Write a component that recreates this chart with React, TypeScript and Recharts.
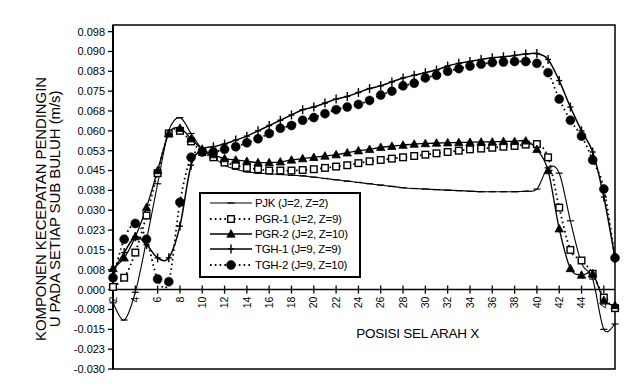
import React from "react";
import {
  LineChart,
  Line,
  XAxis,
  YAxis,
  ReferenceLine,
  ReferenceArea,
  ReferenceDot,
  Legend,
} from "recharts";

// ---------- data ----------
const cells = [
  2, 3, 4, 5, 6, 7, 8, 9, 10, 11, 12, 13, 14, 15, 16, 17, 18, 19, 20, 21, 22, 23, 24,
  25, 26, 27, 28, 29, 30, 31, 32, 33, 34, 35, 36, 37, 38, 39, 40, 41, 42, 43, 44, 45, 46, 47,
];

const pjk = [
  -0.005, -0.0115, -0.001, 0.0185, 0.04, 0.06, 0.065, 0.059, 0.053, 0.05, 0.047, 0.0455,
  0.0445, 0.044, 0.0438, 0.0435, 0.0432, 0.043, 0.0425, 0.042, 0.0415, 0.041, 0.0405, 0.04,
  0.0395, 0.039, 0.0385, 0.0382, 0.038, 0.0378, 0.0376, 0.0374, 0.0372, 0.037, 0.037, 0.037,
  0.037, 0.0372, 0.038, 0.046, 0.044, 0.026, 0.01, 0.004, -0.015, -0.013,
];

const pgr1 = [
  0.001, 0.0045, 0.014, 0.028, 0.044, 0.059, 0.06, 0.056, 0.052, 0.05, 0.048, 0.047, 0.046,
  0.0455, 0.045, 0.045, 0.045, 0.0452, 0.0455, 0.046, 0.0465, 0.047, 0.0478, 0.0485, 0.049,
  0.0495, 0.05, 0.0505, 0.051, 0.0515, 0.052, 0.0525, 0.053, 0.0533, 0.0536, 0.054, 0.0543,
  0.0548, 0.055, 0.05, 0.031, 0.015, 0.011, 0.006, -0.003, -0.007,
];

const pgr2 = [
  0.008, 0.012, 0.02, 0.031, 0.045, 0.059, 0.061, 0.057, 0.053, 0.051, 0.0495, 0.049,
  0.0485, 0.048, 0.048, 0.0483, 0.049, 0.0495, 0.05, 0.0505, 0.051, 0.0517, 0.0525, 0.053,
  0.0538, 0.0542, 0.0546, 0.055, 0.0552, 0.0554, 0.0555, 0.0556, 0.0557, 0.0558, 0.0558,
  0.056, 0.056, 0.0562, 0.053, 0.045, 0.023, 0.008, 0.0055, 0.006, -0.004, -0.006,
];

const tgh1 = [
  0.007, 0.014, 0.02, 0.017, 0.012, 0.012, 0.024, 0.047, 0.053, 0.054, 0.055, 0.0565, 0.058,
  0.06, 0.062, 0.064, 0.066, 0.068, 0.069, 0.0705, 0.072, 0.073, 0.0745, 0.076, 0.077,
  0.0785, 0.08, 0.081, 0.082, 0.083, 0.0845, 0.0855, 0.0862, 0.087, 0.0876, 0.088, 0.0885,
  0.089, 0.0892, 0.087, 0.079, 0.069, 0.06, 0.052, 0.035, 0.012,
];

const tgh2 = [
  0.0045, 0.019, 0.025, 0.019, 0.004, 0.003, 0.033, 0.05, 0.052, 0.052, 0.053, 0.054, 0.0555,
  0.057, 0.059, 0.061, 0.062, 0.064, 0.065, 0.0665, 0.068, 0.069, 0.07, 0.0715, 0.0735,
  0.075, 0.077, 0.078, 0.08, 0.081, 0.0825, 0.0835, 0.0845, 0.0852, 0.0858, 0.086, 0.0862,
  0.0862, 0.0855, 0.082, 0.072, 0.064, 0.058, 0.049, 0.038, 0.012,
];

const seriesNames = [
  "PJK (J=2, Z=2)",
  "PGR-1 (J=2, Z=9)",
  "PGR-2 (J=2, Z=10)",
  "TGH-1 (J=9, Z=9)",
  "TGH-2 (J=9, Z=10)",
];

const xTickValues = [2, 4, 6, 8, 10, 12, 14, 16, 18, 20, 22, 24, 26, 28, 30, 32, 34, 36, 38, 40, 42, 44, 46];

const yTickValues = [
  -0.03, -0.0225, -0.015, -0.0075, 0, 0.0075, 0.015, 0.0225, 0.03, 0.0375, 0.045, 0.0525,
  0.06, 0.0675, 0.075, 0.0825, 0.09, 0.0975,
];
const yTickLabels = [
  "-0.030", "-0.023", "-0.015", "-0.008", "0.000", "0.008", "0.015", "0.023", "0.030",
  "0.038", "0.045", "0.053", "0.060", "0.068", "0.075", "0.083", "0.090", "0.098",
];

const yTitleLines = ["KOMPONEN KECEPATAN PENDINGIN", "U PADA SETIAP SUB BULUH  (m/s)"];
const xTitle = "POSISI SEL ARAH X";

const data = cells.map((x, i) => ({
  x,
  pjk: pjk[i],
  pgr1: pgr1[i],
  pgr2: pgr2[i],
  tgh1: tgh1[i],
  tgh2: tgh2[i],
}));

// ---------- styling ----------
const FONT = '"Liberation Sans", Arial, Helvetica, sans-serif';
const INK = "#000";

// Excel-like smoothed line (Catmull-Rom through points)
const excelSmooth = (context: any) => {
  let pts: number[][] = [];
  return {
    areaStart() {},
    areaEnd() {},
    lineStart() {
      pts = [];
    },
    point(x: number, y: number) {
      pts.push([+x, +y]);
    },
    lineEnd() {
      const n = pts.length;
      if (!n) return;
      context.moveTo(pts[0][0], pts[0][1]);
      if (n === 1) return;
      for (let i = 0; i < n - 1; i++) {
        const p0 = pts[i - 1] || pts[i];
        const p1 = pts[i];
        const p2 = pts[i + 1];
        const p3 = pts[i + 2] || pts[i + 1];
        const c1x = p1[0] + (p2[0] - p0[0]) / 6;
        const c1y = p1[1] + (p2[1] - p0[1]) / 6;
        const c2x = p2[0] - (p3[0] - p1[0]) / 6;
        const c2y = p2[1] - (p3[1] - p1[1]) / 6;
        context.bezierCurveTo(c1x, c1y, c2x, c2y, p2[0], p2[1]);
      }
    },
  };
};

// ---------- markers ----------
const DashMark = ({ cx, cy }: any) => (
  <line x1={cx - 3.5} x2={cx + 3.5} y1={cy} y2={cy} stroke={INK} strokeWidth={1.2} strokeDasharray="none" />
);
const SquareMark = ({ cx, cy }: any) => (
  <rect x={cx - 3.3} y={cy - 3.3} width={6.6} height={6.6} fill="#fff" stroke={INK} strokeWidth={1.4} strokeDasharray="none" />
);
const TriMark = ({ cx, cy }: any) => (
  <path d={`M${cx},${cy - 4.3} L${cx + 4.2},${cy + 3.2} L${cx - 4.2},${cy + 3.2} Z`} fill={INK} stroke={INK} strokeWidth={0.8} strokeDasharray="none" />
);
const PlusMark = ({ cx, cy }: any) => (
  <g>
    <line x1={cx} x2={cx} y1={cy - 4.5} y2={cy + 4.5} stroke={INK} strokeWidth={1.4} strokeDasharray="none" />
    <line x1={cx - 3} x2={cx + 3} y1={cy} y2={cy} stroke={INK} strokeWidth={1.4} strokeDasharray="none" />
  </g>
);
const CircleMark = ({ cx, cy }: any) => (
  <circle cx={cx} cy={cy} r={4.5} fill={INK} stroke={INK} strokeWidth={0.5} strokeDasharray="none" />
);

const mk = (Comp: any, tag: string) => (p: any) =>
  p.cx == null || p.cy == null ? <g key={`${tag}-${p.index}`} /> : <Comp key={`${tag}-${p.index}`} cx={p.cx} cy={p.cy} />;

const series = [
  { key: "pjk", name: seriesNames[0], dash: undefined, width: 1.1, Mark: DashMark },
  { key: "pgr1", name: seriesNames[1], dash: "1.6 3.2", width: 1.8, Mark: SquareMark },
  { key: "pgr2", name: seriesNames[2], dash: undefined, width: 1.3, Mark: TriMark },
  { key: "tgh1", name: seriesNames[3], dash: undefined, width: 1.5, Mark: PlusMark },
  { key: "tgh2", name: seriesNames[4], dash: "1.6 3.2", width: 1.8, Mark: CircleMark },
];

// ---------- axis decorations ----------
const YTitle = ({ viewBox }: any) => {
  const vb = viewBox || { x: 0, y: 17, width: 105, height: 344 };
  const cy = vb.y + vb.height / 2 + 12;
  const xs = [vb.x + 32, vb.x + 46];
  return (
    <g>
      {yTitleLines.map((t, i) => (
        <text
          key={t}
          x={xs[i]}
          y={cy}
          transform={`rotate(-90, ${xs[i]}, ${cy})`}
          textAnchor="middle"
          dominantBaseline="central"
          fontFamily={FONT}
          fontSize={15}
          fill={INK}
          letterSpacing={-0.1}
        >
          {t}
        </text>
      ))}
    </g>
  );
};

const XTitle = ({ viewBox }: any) => {
  const vb = viewBox || { x: 105, y: 281, width: 502, height: 0 };
  return (
    <text
      x={vb.x + vb.width * 0.607}
      y={vb.y + 44}
      textAnchor="middle"
      dominantBaseline="central"
      fontFamily={FONT}
      fontSize={13.5}
      fill={INK}
      letterSpacing={-0.25}
    >
      {xTitle}
    </text>
  );
};

const XTick = ({ cx, cy, value }: any) => {
  const ty = cy + 7;
  return (
    <g>
      <line x1={cx} x2={cx} y1={cy - 4} y2={cy + 4} stroke={INK} strokeWidth={1.3} />
      <text
        x={cx}
        y={ty}
        transform={`rotate(-90, ${cx}, ${ty})`}
        textAnchor="end"
        dy="0.35em"
        fontFamily={FONT}
        fontSize={10.5}
        fill={INK}
      >
        {value}
      </text>
    </g>
  );
};

// ---------- legend ----------
const LegendBox = () => (
  <div
    style={{
      width: 162,
      height: 86,
      boxSizing: "border-box",
      border: `2px solid ${INK}`,
      background: "#fff",
      paddingTop: 1.5,
      fontFamily: FONT,
      fontSize: 11.5,
      color: INK,
    }}
  >
    {series.map((s) => (
      <div key={s.key} style={{ display: "flex", alignItems: "center", height: 15.4, whiteSpace: "nowrap" }}>
        <svg width={45} height={14} style={{ marginLeft: 9, display: "block" }}>
          <line x1={0} x2={42} y1={7} y2={7} stroke={INK} strokeWidth={s.width} strokeDasharray={s.dash} />
          <s.Mark cx={21} cy={7} />
        </svg>
        <span style={{ letterSpacing: -0.3 }}>{s.name}</span>
      </div>
    ))}
  </div>
);

export default function App() {
  return (
    <LineChart width={627} height={384} data={data} margin={{ top: 17, right: 20, bottom: 23, left: 0 }}>
      <XAxis dataKey="x" type="number" domain={[2, 47]} ticks={xTickValues} hide />
      <YAxis
        type="number"
        domain={[-0.03, 0.1]}
        ticks={yTickValues}
        interval={0}
        allowDataOverflow
        width={105}
        tickSize={5}
        tickMargin={3}
        axisLine={{ stroke: INK, strokeWidth: 2 }}
        tickLine={{ stroke: INK, strokeWidth: 1.3 }}
        tick={{ fill: INK, fontSize: 11, fontFamily: FONT }}
        tickFormatter={(v: number) => {
          const i = yTickValues.findIndex((t) => Math.abs(t - v) < 1e-9);
          return i >= 0 ? yTickLabels[i] : String(v);
        }}
        label={<YTitle />}
      />
      <ReferenceArea x1={2} x2={47} y1={-0.03} y2={0.1} fill="none" stroke={INK} strokeWidth={1.5} />
      <ReferenceLine y={0} stroke={INK} strokeWidth={1.5} label={<XTitle />} />
      {xTickValues.map((v) => (
        <ReferenceDot
          key={`xt-${v}`}
          x={v}
          y={0}
          r={0}
          ifOverflow="visible"
          shape={(p: any) => <XTick cx={p.cx} cy={p.cy} value={v} />}
        />
      ))}
      {series.map((s) => (
        <Line
          key={s.key}
          dataKey={s.key}
          name={s.name}
          type={excelSmooth as any}
          stroke={INK}
          strokeWidth={s.width}
          strokeDasharray={s.dash}
          dot={mk(s.Mark, s.key)}
          activeDot={false}
          isAnimationActive={false}
        />
      ))}
      <Legend
        layout="vertical"
        align="center"
        verticalAlign="middle"
        content={() => <LegendBox />}
        wrapperStyle={{ left: 191, top: 184, width: 162, height: 86 }}
      />
    </LineChart>
  );
}
